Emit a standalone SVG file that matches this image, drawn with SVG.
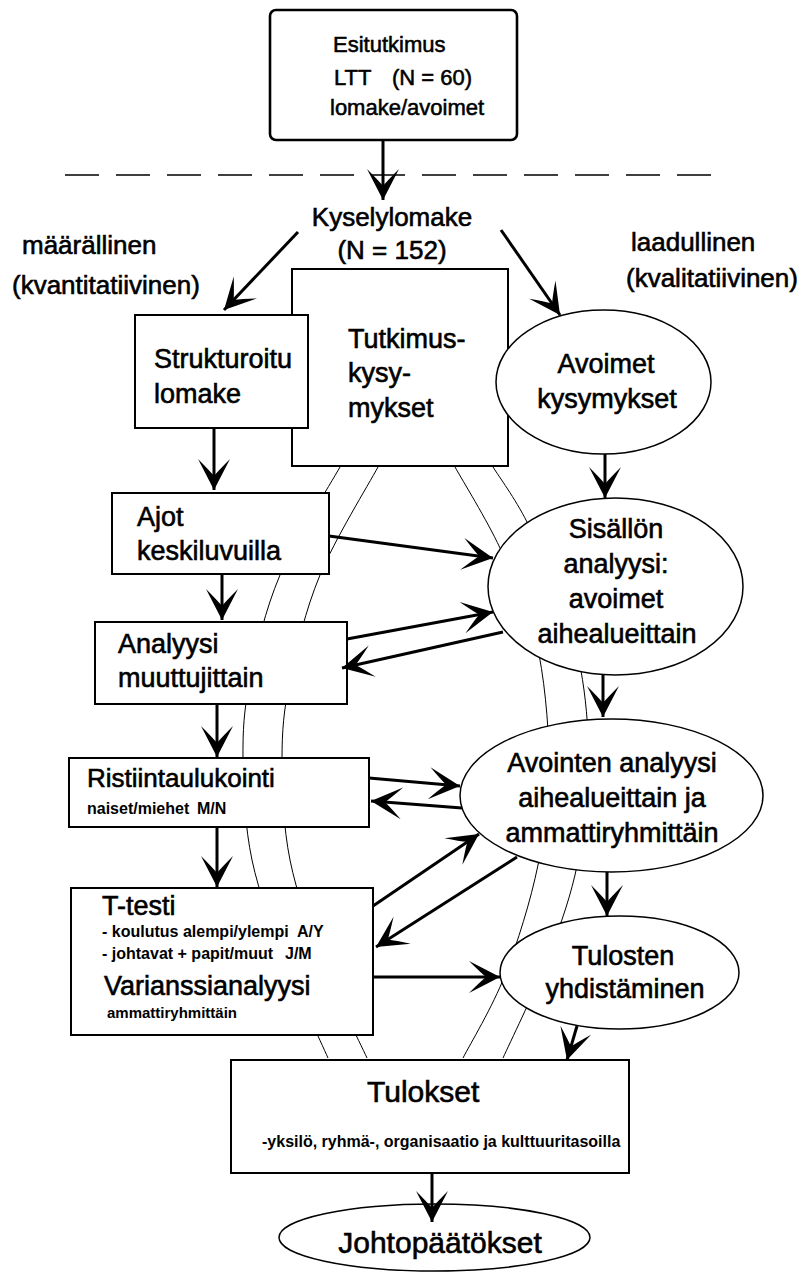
<svg xmlns="http://www.w3.org/2000/svg" width="806" height="1273" viewBox="0 0 806 1273">
  <defs>
    <marker id="ah" markerUnits="userSpaceOnUse" markerWidth="40" markerHeight="40" viewBox="-34 -20 38 40" refX="0" refY="0" orient="auto">
      <path d="M0,0 L-31,-16 Q-20,-5 -14,0 Q-20,5 -31,16 Z" fill="#000"/>
    </marker>
    <style>
      .box { fill: #fff; stroke: #000; stroke-width: 2; }
      .oval { fill: #fff; stroke: #000; stroke-width: 1.5; }
      .band { fill: none; stroke: #000; stroke-width: 1; }
      .arrow { fill: none; stroke: #000; stroke-width: 3; marker-end: url(#ah); }
      .sep { fill: none; stroke: #000; stroke-width: 1.6; stroke-dasharray: 34 17; }
      text { font-family: "Liberation Sans", Arial, sans-serif; fill: #000; }
      .t22 { font-size: 22px; stroke: #000; stroke-width: 0.55; }
      .t26 { font-size: 26px; stroke: #000; stroke-width: 0.6; }
      .t27 { font-size: 27px; stroke: #000; stroke-width: 0.6; }
      .t30 { font-size: 30px; stroke: #000; stroke-width: 0.6; }
      .sm { font-size: 16px; font-weight: bold; }
      .sm15 { font-size: 15px; font-weight: bold; }
      .mid { text-anchor: middle; }
    </style>
  </defs>
  <rect width="806" height="1273" fill="#fff"/>

  <!-- thin bands running behind the nodes from the research questions to the results -->
  <g id="bands">
    <path class="band" d="M340,467 C330,485 295,539.5 280,575 C265,610.5 256.2,649.2 250,680 C243.8,710.8 242.7,730 243,760 C243.3,790 245,826.7 252,860 C259,893.3 272.3,927 285,960 C297.7,993 320.8,1041.7 328,1058"/>
    <path class="band" d="M378,467 C368.3,485 334.7,539.5 320,575 C305.3,610.5 296.3,649.2 290,680 C283.7,710.8 282,730 282,760 C282,790 283.3,826.7 290,860 C296.7,893.3 309.2,927 322,960 C334.8,993 359.5,1041.7 367,1058"/>
    <path class="band" d="M455,467 C462.5,480.5 486.5,519.2 500,548 C513.5,576.8 527.8,604.7 536,640 C544.2,675.3 548.7,722.5 549,760 C549.3,797.5 545.3,829.2 538,865 C530.7,900.8 517.5,942.8 505,975 C492.5,1007.2 470,1044.2 463,1058"/>
    <path class="band" d="M493,467 C498.7,476.2 515,498.2 527,522 C539,545.8 555.5,582 565,610 C574.5,638 580.2,661.7 584,690 C587.8,718.3 589.5,749.2 588,780 C586.5,810.8 582.2,844.2 575,875 C567.8,905.8 557,934.5 545,965 C533,995.5 510,1042.5 503,1058"/>
  </g>

  <!-- pilot study -->
  <g id="esitutkimus">
    <rect x="270" y="10" width="247" height="130" rx="6" fill="#fff" stroke="#000" stroke-width="2.6"/>
    <text class="t22" x="333" y="52">Esitutkimus</text>
    <text class="t22" y="85"><tspan x="334">LTT</tspan><tspan x="392">(N = 60)</tspan></text>
    <text class="t22" x="330" y="115">lomake/avoimet</text>
  </g>

  <line id="raja" class="sep" x1="65" y1="175" x2="716" y2="175"/>

  <g id="kyselylomake">
    <text class="t26 mid" x="392" y="226">Kyselylomake</text>
    <text class="t26 mid" x="392" y="259">(N = 152)</text>
  </g>

  <g id="maarallinen">
    <text class="t26" x="22" y="254">määrällinen</text>
    <text class="t26" x="12" y="294">(kvantitatiivinen)</text>
  </g>

  <g id="laadullinen">
    <text class="t26" x="631" y="251">laadullinen</text>
    <text class="t26" x="626" y="287">(kvalitatiivinen)</text>
  </g>

  <g id="tutkimuskysymykset">
    <rect class="box" x="292" y="269" width="216" height="197" stroke-width="1.6"/>
    <text class="t27" x="348" y="348">Tutkimus-</text>
    <text class="t27" x="348" y="382">kysy-</text>
    <text class="t27" x="348" y="417">mykset</text>
  </g>

  <g id="strukturoitu">
    <rect class="box" x="135" y="315" width="173" height="113"/>
    <text class="t27" x="154" y="368">Strukturoitu</text>
    <text class="t27" x="154" y="403">lomake</text>
  </g>

  <g id="avoimet">
    <ellipse class="oval" cx="603.5" cy="382" rx="107.5" ry="72"/>
    <text class="t27 mid" x="606" y="373">Avoimet</text>
    <text class="t27 mid" x="607" y="408">kysymykset</text>
  </g>

  <g id="ajot">
    <rect class="box" x="112" y="493" width="217" height="81"/>
    <text class="t27" x="137" y="526">Ajot</text>
    <text class="t27" x="137" y="560">keskiluvuilla</text>
  </g>

  <g id="analyysi">
    <rect class="box" x="95" y="622" width="252" height="82"/>
    <text class="t27" x="118" y="653">Analyysi</text>
    <text class="t27" x="118" y="687">muuttujittain</text>
  </g>

  <g id="sisallon">
    <ellipse class="oval" cx="615.5" cy="586.5" rx="127.5" ry="88.5"/>
    <text class="t27 mid" x="616" y="538">Sisällön</text>
    <text class="t27 mid" x="616" y="573">analyysi:</text>
    <text class="t27 mid" x="616" y="608">avoimet</text>
    <text class="t27 mid" x="617" y="643">aihealueittain</text>
  </g>

  <g id="ristiintaulukointi">
    <rect class="box" x="69" y="758" width="300" height="69"/>
    <text class="t26" x="87" y="787">Ristiintaulukointi</text>
    <text class="sm" y="814"><tspan x="87">naiset/miehet</tspan><tspan x="197">M/N</tspan></text>
  </g>

  <g id="avointen">
    <ellipse class="oval" cx="611.5" cy="795.5" rx="151.5" ry="76.5"/>
    <text class="t27 mid" x="612" y="772">Avointen analyysi</text>
    <text class="t27 mid" x="612" y="807">aihealueittain ja</text>
    <text class="t27 mid" x="612" y="842">ammattiryhmittäin</text>
  </g>

  <g id="ttesti">
    <rect class="box" x="71" y="888" width="302" height="147"/>
    <text class="t27" x="102" y="915">T-testi</text>
    <text class="sm" y="937"><tspan x="102">- koulutus alempi/ylempi</tspan><tspan x="297">A/Y</tspan></text>
    <text class="sm" y="959"><tspan x="102">- johtavat + papit/muut</tspan><tspan x="285">J/M</tspan></text>
    <text class="t27" x="104" y="995">Varianssianalyysi</text>
    <text class="sm15" x="107" y="1018">ammattiryhmittäin</text>
  </g>

  <g id="tulosten">
    <ellipse class="oval" cx="619.5" cy="972.5" rx="119.5" ry="56.5"/>
    <text class="t27 mid" x="623" y="965">Tulosten</text>
    <text class="t27 mid" x="625" y="998">yhdistäminen</text>
  </g>

  <g id="tulokset">
    <rect class="box" x="231" y="1060" width="398" height="113"/>
    <text class="t30" x="367" y="1102">Tulokset</text>
    <text class="sm" x="262" y="1147">-yksilö, ryhmä-, organisaatio ja kulttuuritasoilla</text>
  </g>

  <g id="johtopaatokset">
    <ellipse class="oval" cx="434.5" cy="1237.5" rx="155.5" ry="33.5"/>
    <text class="t30 mid" x="440" y="1253">Johtopäätökset</text>
  </g>

  <!-- connectors -->
  <g id="connectors">
    <line class="arrow" x1="383" y1="140" x2="383" y2="200"/>
    <line class="arrow" x1="298" y1="232" x2="224" y2="310"/>
    <line class="arrow" x1="501" y1="230" x2="560" y2="315"/>
    <line class="arrow" x1="214" y1="428" x2="214" y2="490"/>
    <line class="arrow" x1="605" y1="454" x2="605" y2="498"/>
    <line class="arrow" x1="222" y1="574" x2="222" y2="620"/>
    <line class="arrow" x1="329" y1="536" x2="493" y2="558"/>
    <line class="arrow" x1="347" y1="639" x2="493" y2="612"/>
    <line class="arrow" x1="503" y1="632" x2="342" y2="668"/>
    <line class="arrow" x1="603" y1="675" x2="603" y2="717"/>
    <line class="arrow" x1="217" y1="704" x2="217" y2="757"/>
    <line class="arrow" x1="369" y1="778" x2="460" y2="786"/>
    <line class="arrow" x1="462" y1="808" x2="371" y2="801"/>
    <line class="arrow" x1="217" y1="827" x2="217" y2="887"/>
    <line class="arrow" x1="373" y1="906" x2="479" y2="834"/>
    <line class="arrow" x1="517" y1="857" x2="376" y2="947"/>
    <line class="arrow" x1="373" y1="977" x2="500" y2="977"/>
    <line class="arrow" x1="607" y1="872" x2="607" y2="916"/>
    <line class="arrow" x1="577" y1="1026" x2="567" y2="1060"/>
    <line class="arrow" x1="432" y1="1173" x2="432" y2="1222"/>
  </g>
</svg>
